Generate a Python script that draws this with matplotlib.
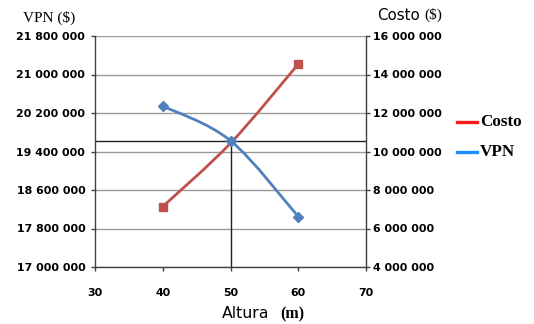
import matplotlib
matplotlib.use("Agg")
import matplotlib.pyplot as plt
from matplotlib.path import Path
from matplotlib.patches import PathPatch
from matplotlib.lines import Line2D
from matplotlib.ticker import FuncFormatter

# ---- data ----
altura = [40, 50, 60]
vpn = [20345000, 19625000, 18048000]
costo = [7140000, 10430000, 14540000]

x_ticks = [30, 40, 50, 60, 70]
vpn_ticks = [17000000, 17800000, 18600000, 19400000, 20200000, 21000000, 21800000]
costo_ticks = [4000000, 6000000, 8000000, 10000000, 12000000, 14000000, 16000000]

RED = "#C0504D"
BLUE = "#4F81BD"
W, H = 534, 324

fig = plt.figure(figsize=(W / 100, H / 100), dpi=100)
ax = fig.add_axes([95 / W, 1 - 267 / H, (366 - 95) / W, (267 - 36) / H])
ax2 = ax.twinx()

def fmt(v, pos=None):
    return f"{v:,.0f}".replace(",", " ")

def smooth_path(xs, ys):
    # Excel-style smoothed line: cubic Bezier, Catmull-Rom control points
    n = len(xs)
    verts = [(xs[0], ys[0])]
    codes = [Path.MOVETO]
    for i in range(n - 1):
        p0 = (xs[max(i - 1, 0)], ys[max(i - 1, 0)])
        p1 = (xs[i], ys[i])
        p2 = (xs[i + 1], ys[i + 1])
        p3 = (xs[min(i + 2, n - 1)], ys[min(i + 2, n - 1)])
        c1 = (p1[0] + (p2[0] - p0[0]) / 6, p1[1] + (p2[1] - p0[1]) / 6)
        c2 = (p2[0] - (p3[0] - p1[0]) / 6, p2[1] - (p3[1] - p1[1]) / 6)
        verts += [c1, c2, p2]
        codes += [Path.CURVE4] * 3
    return Path(verts, codes)

ax.set_xlim(30, 70)
ax.set_ylim(vpn_ticks[0], vpn_ticks[-1])
ax2.set_ylim(costo_ticks[0], costo_ticks[-1])
ax.set_xticks(x_ticks)
ax.set_yticks(vpn_ticks)
ax2.set_yticks(costo_ticks)
ax.yaxis.set_major_formatter(FuncFormatter(fmt))
ax2.yaxis.set_major_formatter(FuncFormatter(fmt))

ax.grid(axis="y", color="#9A9A9A", lw=1.0)
ax.set_axisbelow(True)

for a in (ax, ax2):
    a.spines["top"].set_visible(False)
    for s in ("left", "right", "bottom"):
        a.spines[s].set_color("#404040")
        a.spines[s].set_linewidth(1.0)
ax.spines["right"].set_visible(False)
ax2.spines["left"].set_visible(False)
ax2.spines["bottom"].set_visible(False)

ax.tick_params(axis="y", length=3, width=1, color="#404040", pad=4)
ax.tick_params(axis="x", length=3, width=1, color="#404040", pad=12)
ax2.tick_params(axis="y", length=3, width=1, color="#404040", pad=2)
for lab in ax.get_xticklabels() + ax.get_yticklabels() + ax2.get_yticklabels():
    lab.set_fontfamily("DejaVu Sans")
    lab.set_fontweight("bold")
    lab.set_fontsize(7.9)

# crosshair at VPN(50)
ax.axhline(vpn[1], color="#202020", lw=1.0, zorder=2)
ax.plot([altura[1], altura[1]], [vpn_ticks[0], vpn[1]], color="#202020", lw=1.0, zorder=2)

# Costo (right axis)
ax2.add_patch(PathPatch(smooth_path(altura, costo), fill=False, edgecolor=RED, lw=2.0,
                        transform=ax2.transData, zorder=3))
ax2.plot([altura[0], altura[2]], [costo[0], costo[2]], ls="none", marker="s", ms=6,
         color=RED, zorder=4)

# VPN (left axis) drawn above
ax2.add_patch(PathPatch(smooth_path(altura, vpn), fill=False, edgecolor=BLUE, lw=2.0,
                        transform=ax.transData, zorder=5))
ax2.plot(altura, vpn, ls="none", marker="D", ms=5.5, color=BLUE, zorder=6,
         transform=ax.transData)

# titles
fig.text(23 / W, 1 - 18 / H, "VPN ($)", family="Liberation Serif", size=11,
         ha="left", va="center")
fig.text(377 / W, 1 - 15 / H, "Costo", family="DejaVu Sans", size=10.8,
         ha="left", va="center")
fig.text(424 / W, 1 - 15 / H, "($)", family="Liberation Serif", size=11,
         ha="left", va="center")
fig.text(222 / W, 1 - 314 / H, "Altura", family="DejaVu Sans", size=11.3,
         ha="left", va="center")
fig.text(280 / W, 1 - 314 / H, "(m)", family="Liberation Serif", weight="bold", size=11.5,
         ha="left", va="center")

# legend
for yy, col, txt in [(121.7, "#FF1A1A", "Costo"), (152.3, "#1E8FFF", "VPN")]:
    fig.add_artist(Line2D([457 / W, 477 / W], [1 - yy / H, 1 - yy / H], color=col, lw=2.4,
                          transform=fig.transFigure))
    fig.text(480 / W, 1 - yy / H, txt, family="Liberation Serif", weight="bold", size=12.3,
             ha="left", va="center")

fig.savefig("out.png", dpi=100)
